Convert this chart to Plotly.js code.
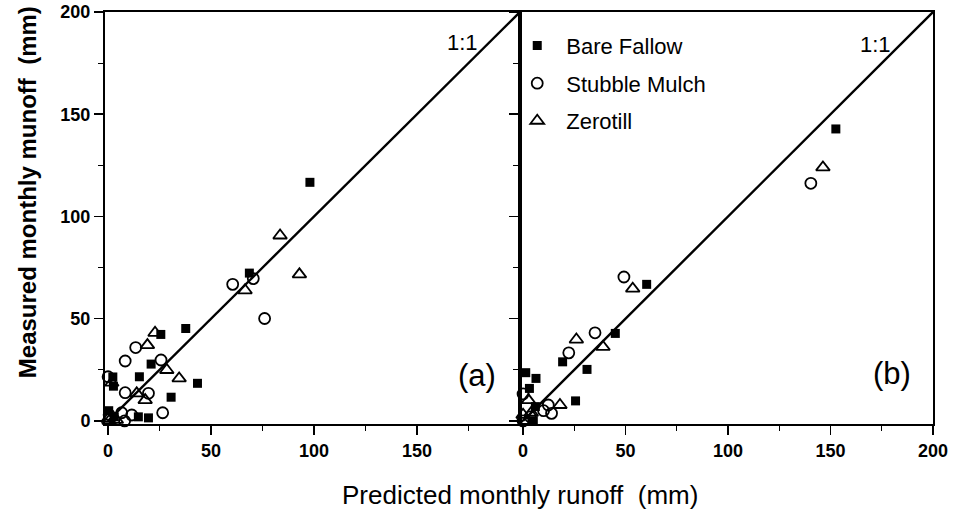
<!DOCTYPE html>
<html><head><meta charset="utf-8">
<script src="https://cdn.plot.ly/plotly-3.0.1.min.js"></script>
<style>html,body{margin:0;padding:0;background:#fff}#c{width:958px;height:524px}</style>
</head><body><div id="c"></div>
<script>
// Panel (a)
const bfA_x = [98, 68.6, 37.7, 25.6, 20.9, 15.2, 43.4, 30.6, 2.3, 2.6, 0.3, 3, 14.7, 19.6];
const bfA_y = [116.7, 72.3, 45.2, 42.3, 27.8, 21.6, 18.4, 11.6, 21.5, 17, 5, 2, 2, 1.5];
const smA_x = [60.5, 70.5, 76, 13.4, 8.3, 25.7, 0, 8.3, 19.6, 26.5, 6.6, 11.5, 8, 0.5];
const smA_y = [66.8, 69.6, 50.1, 35.9, 29.3, 29.8, 21.6, 13.8, 13.5, 4, 4, 2.9, 0, 3];
const ztA_x = [83.5, 92.9, 66.5, 22.8, 19.1, 28.5, 34.5, 1.8, 13.9, 18, 0, 0.5, 4];
const ztA_y = [90.7, 71.7, 63.9, 43.1, 37.1, 24.9, 20.8, 18.7, 13.5, 10.2, 1, 0, 0.5];
// Panel (b)
const bfB_x = [152.6, 60.3, 45, 19.3, 31.2, 25.6, 1.3, 6.3, 3.1, 5, 6];
const bfB_y = [142.8, 66.8, 42.8, 28.9, 25.2, 9.8, 23.6, 20.8, 15.9, 0, 7];
const smB_x = [140.4, 49.2, 35.1, 22.3, 0, 12.3, 13.9, 10, 0, 3.5];
const smB_y = [116.2, 70.4, 43.1, 33.3, 13.2, 7.8, 3.7, 5, 0, 2];
const ztB_x = [146.3, 53.5, 26, 39, 18, 0, 2.6, 2, 4];
const ztB_y = [124, 64.7, 39.8, 36.2, 7.8, 3, 10.2, 0, 4];
// 1:1 line
const one_x = [0, 200];
const one_y = [0, 200];
const seriesNames = ["Bare Fallow", "Stubble Mulch", "Zerotill"];
const tickA = [0, 50, 100, 150];
const tickB = [0, 50, 100, 150, 200];
const tickY = [0, 50, 100, 150, 200];

const FAM = 'Liberation Sans, Arial, sans-serif';
const mk = [
  {symbol: 'square', size: 9, color: '#000', line: {width: 0}},
  {symbol: 'circle-open', size: 11, color: '#000', line: {width: 1.8}},
  {symbol: 'triangle-up-open', size: 12, color: '#000', line: {width: 1.8}}
];
function pts(x, y, i, xa, ya, show) {
  return {type: 'scatter', mode: 'markers', x: x, y: y, xaxis: xa, yaxis: ya,
    name: seriesNames[i], legendgroup: 'g' + i, showlegend: show, marker: mk[i], cliponaxis: false};
}
const lineA = {type: 'scatter', mode: 'lines', x: one_x, y: one_y, xaxis: 'x', yaxis: 'y', showlegend: false, line: {color: '#000', width: 2.4}};
const lineB = {type: 'scatter', mode: 'lines', x: one_x, y: one_y, xaxis: 'x2', yaxis: 'y2', showlegend: false, line: {color: '#000', width: 2.4}};
const data = [lineA, lineB,
  pts(bfA_x, bfA_y, 0, 'x', 'y', true), pts(smA_x, smA_y, 1, 'x', 'y', true), pts(ztA_x, ztA_y, 2, 'x', 'y', true),
  pts(bfB_x, bfB_y, 0, 'x2', 'y2', false), pts(smB_x, smB_y, 1, 'x2', 'y2', false), pts(ztB_x, ztB_y, 2, 'x2', 'y2', false)];

const tf = {family: FAM, size: 18, color: '#000', weight: 'bold'};
const ax = {showline: true, linecolor: '#000', linewidth: 2, mirror: true, ticks: 'outside', ticklen: 9, tickwidth: 1.5, tickcolor: '#000',
  showgrid: false, zeroline: false, range: [-1.5, 200], tickfont: tf,
  minor: {tickvals: [25, 75, 125, 175], ticks: 'outside', ticklen: 5, tickwidth: 1.2, tickcolor: '#000'}};
const layout = {
  width: 958, height: 524, margin: {l: 105, r: 25, t: 12, b: 100},
  paper_bgcolor: '#fff', plot_bgcolor: '#fff',
  font: {family: FAM, color: '#000'},
  xaxis: Object.assign({}, ax, {domain: [0, 0.5012], tickvals: tickA, ticktext: tickA.map(String), anchor: 'y'}),
  xaxis2: Object.assign({}, ax, {domain: [0.5012, 1], tickvals: tickB, ticktext: tickB.map(String), anchor: 'y2'}),
  yaxis: Object.assign({}, ax, {tickvals: tickY, ticktext: tickY.map(String), anchor: 'x'}),
  yaxis2: Object.assign({}, ax, {tickvals: tickY, showticklabels: false, anchor: 'x2'}),
  showlegend: true,
  legend: {x: 0.487, y: 0.969, xanchor: 'left', yanchor: 'top', bgcolor: 'rgba(0,0,0,0)', tracegroupgap: 6,
    font: {size: 22, color: '#000', family: FAM}, itemwidth: 48},
  annotations: [
    {xref: 'x', yref: 'y', x: 172, y: 185, text: '1:1', showarrow: false, font: {size: 22, family: FAM}},
    {xref: 'x2', yref: 'y2', x: 172, y: 184, text: '1:1', showarrow: false, font: {size: 22, family: FAM}},
    {xref: 'x', yref: 'y', x: 179, y: 22, text: '(a)', showarrow: false, font: {size: 31, family: FAM}},
    {xref: 'x2', yref: 'y2', x: 180, y: 23, text: '(b)', showarrow: false, font: {size: 31, family: FAM}},
    {xref: 'paper', yref: 'paper', x: -0.094, y: 0.563, xanchor: 'center', yanchor: 'middle', textangle: -90,
     text: 'Measured monthly munoff\u00a0 (mm)', showarrow: false, font: {size: 24, weight: 'bold', family: FAM}},
    {xref: 'paper', yref: 'paper', x: 0.501, y: -0.172, xanchor: 'center', yanchor: 'middle',
     text: 'Predicted monthly runoff\u00a0 (mm)', showarrow: false, font: {size: 26, family: FAM}}
  ]
};
Plotly.newPlot('c', data, layout, {displayModeBar: false, staticPlot: true});
</script></body></html>
